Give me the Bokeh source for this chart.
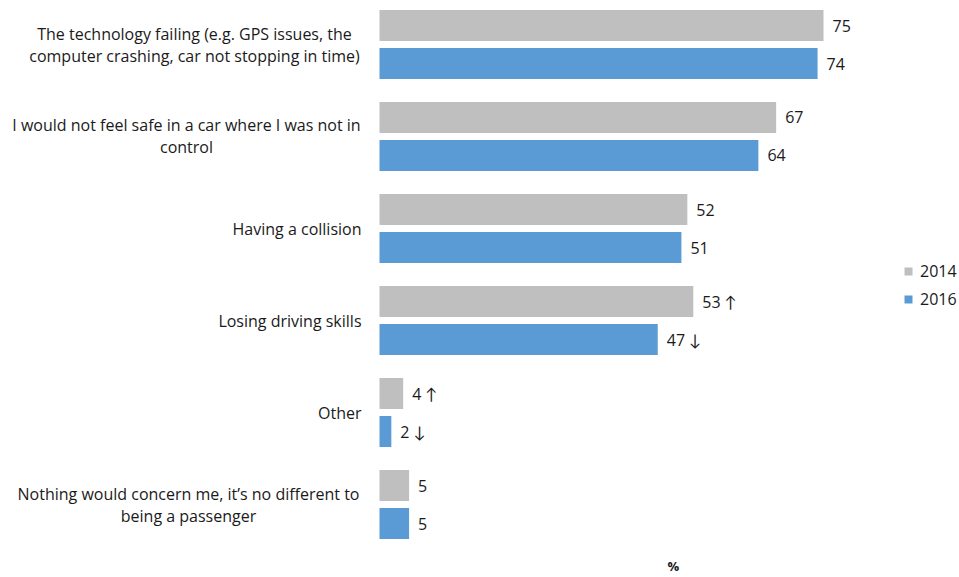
from bokeh.plotting import figure
from bokeh.models import FactorRange, Range1d, Legend, LegendItem, Title, ColumnDataSource
from bokeh.core.properties import value
from bokeh.embed import file_html
from bokeh.resources import INLINE

# ---------------- data ----------------
categories = [
    "The technology failing (e.g. GPS issues, the\ncomputer crashing, car not stopping in time)",
    "I would not feel safe in a car where I was not in\ncontrol",
    "Having a collision",
    "Losing driving skills",
    "Other",
    "Nothing would concern me, it\u2019s no different to\nbeing a passenger",
]
years = ["2014", "2016"]
values_2014 = [75, 67, 52, 53, 4, 5]
values_2016 = [74, 64, 51, 47, 2, 5]
change_2014 = ["", "", "", "\u2191", "\u2191", ""]
change_2016 = ["", "", "", "\u2193", "\u2193", ""]
x_title = "%"

# ---------------- layout / style ----------------
W, H = 959, 577
ORIGIN_PX = 379.0      # pixel where value 0 sits
PX_PER_UNIT = 5.92
UNIT_PX = 38.0         # pixels per categorical unit
FONT = "'Open Sans', Lato, 'DejaVu Sans'"
FS = "16px"
TXT = "#1a1a1a"
COLORS = {"2014": "#BFBFBF", "2016": "#5B9BD5"}
# centre (px) for multi-line labels; None -> right aligned single line
LABEL_CENTRES = [194, 186, None, None, None, 188]
LABEL_RIGHT_PX = 361
LINE_H = 22

def px_to_x(px):
    return (px - ORIGIN_PX) / PX_PER_UNIT

x_start = px_to_x(0)
x_end = px_to_x(W)

factors = [(c, y) for c in reversed(categories) for y in reversed(years)]
y_range = FactorRange(factors=factors, factor_padding=0.0,
                      group_padding=16 / UNIT_PX, range_padding=0.0)

p = figure(width=W, height=H, x_range=Range1d(x_start, x_end), y_range=y_range,
           output_backend="svg", toolbar_location=None,
           x_axis_location=None, y_axis_location=None,
           min_border_left=0, min_border_right=0,
           min_border_top=6, min_border_bottom=35)
p.outline_line_color = None
p.xgrid.visible = False
p.ygrid.visible = False
p.background_fill_color = None
p.border_fill_color = "white"

series = {"2014": (values_2014, change_2014), "2016": (values_2016, change_2016)}
items = []
for yr in years:
    vals, chg = series[yr]
    src = ColumnDataSource(dict(
        y=[(c, yr) for c in categories],
        v=vals,
        lab=[f"{v} {a}".strip() for v, a in zip(vals, chg)],
    ))
    r = p.hbar(y="y", left=0, right="v", height=31 / UNIT_PX, source=src,
               fill_color=COLORS[yr], line_color=None)
    items.append(LegendItem(label=yr, renderers=[r]))
    p.text(x="v", y="y", text="lab", source=src, x_offset=9,
           text_baseline="middle", text_align="left",
           text_font=value(FONT), text_font_size=FS, text_color=TXT)

# category labels
for c, centre in zip(categories, LABEL_CENTRES):
    lines = c.split("\n")
    n = len(lines)
    for i, line in enumerate(lines):
        off = (i - (n - 1) / 2) * LINE_H
        if centre is None:
            xx, align = px_to_x(LABEL_RIGHT_PX), "right"
        else:
            xx, align = px_to_x(centre), "center"
        p.text(x=[xx], y=[c], text=[line], y_offset=off,
               text_align=align, text_baseline="middle",
               text_font=value(FONT), text_font_size=FS, text_color=TXT)

legend = Legend(items=items, location=(903, 232), orientation="vertical",
                glyph_width=10, glyph_height=10, label_height=20,
                spacing=6, padding=0, margin=0, label_standoff=7,
                border_line_color=None, background_fill_alpha=0,
                label_text_font=FONT, label_text_font_size=FS,
                label_text_color=TXT, label_text_baseline="middle")
p.add_layout(legend, "center")

# spacer + axis title "%" below the bars
p.add_layout(Title(text=" ", text_font_size="1px", standoff=9), "below")
p.add_layout(Title(text=x_title, align="left", offset=667, vertical_align="bottom",
                   standoff=0, text_font=FONT, text_font_size="13px",
                   text_font_style="bold", text_color=TXT), "below")

open("out.html", "w").write(file_html(p, INLINE))
